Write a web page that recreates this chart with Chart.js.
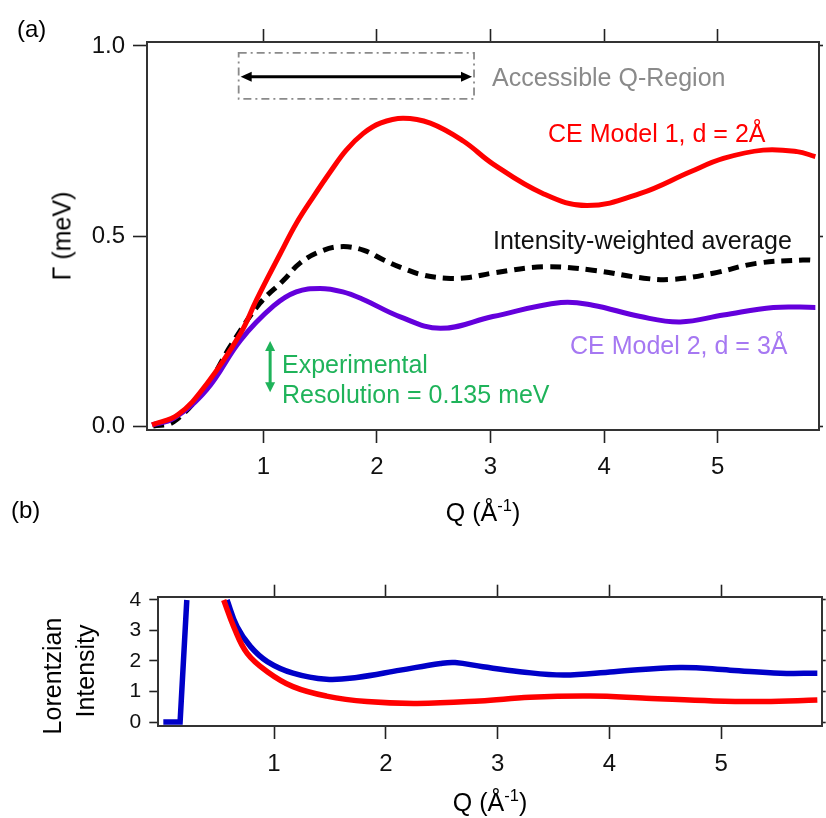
<!DOCTYPE html>
<html lang="en">
<head>
<meta charset="UTF-8" />
<title>CE model linewidths</title>
<script src="https://cdn.jsdelivr.net/npm/chart.js"></script>
<style>
  body { margin: 0; background: #fff; font-family: "Liberation Sans", Arial, sans-serif; }
  #page { position: relative; width: 826px; height: 818px; overflow: hidden; background: #fff; }
  canvas { position: absolute; left: 0; }
  #chartA { top: 0; }
  #chartB { top: 540px; }
  .lbl { position: absolute; white-space: nowrap; line-height: 1; transform: translateY(-50%); }
  .ctr { position: absolute; white-space: nowrap; line-height: 1; transform: translate(-50%, -50%); }
  .rot { position: absolute; white-space: nowrap; line-height: 1; transform: translate(-50%, -50%) rotate(-90deg); }
  sup { font-size: 0.66em; vertical-align: 0.6em; line-height: 0; }
</style>
</head>
<body>
<div id="page">
  <canvas id="chartA" width="826" height="540"></canvas>
  <canvas id="chartB" width="826" height="278"></canvas>

  <div class="lbl" style="left:17px; top:29px; font-size:24px;">(a)</div>
  <div class="lbl" style="left:11px; top:510px; font-size:24px;">(b)</div>

  <div class="rot" style="left:62px; top:236px; font-size:25px;">Γ (meV)</div>
  <div class="ctr" style="left:483px; top:512px; font-size:25px;">Q (Å<sup>-1</sup>)</div>
  <div class="rot" style="left:52px; top:676px; font-size:25px;">Lorentzian</div>
  <div class="rot" style="left:85px; top:671px; font-size:25px;">Intensity</div>
  <div class="ctr" style="left:490px; top:802px; font-size:25px;">Q (Å<sup>-1</sup>)</div>

  <div class="lbl" style="left:492px; top:77px; font-size:25px; color:#8a8a8a;">Accessible Q-Region</div>
  <div class="lbl" style="left:548px; top:133px; font-size:25px; color:#ff0000;">CE Model 1, d = 2Å</div>
  <div class="lbl" style="left:493px; top:240px; font-size:25px; color:#111;">Intensity-weighted average</div>
  <div class="lbl" style="left:570px; top:345px; font-size:25px; color:#a678f2;">CE Model 2, d = 3Å</div>
  <div class="lbl" style="left:282px; top:364px; font-size:25px; color:#1fb35a;">Experimental</div>
  <div class="lbl" style="left:282px; top:394px; font-size:25px; color:#1fb35a;">Resolution = 0.135 meV</div>
</div>

<script>
  // ---- panel (a): linewidth vs Q ----
  const qRed      = [0.02, 0.25, 0.50, 0.80, 0.94, 1.15, 1.29, 1.44, 1.59, 1.73, 1.88, 2.03, 2.23, 2.47, 2.76, 3.02, 3.46, 3.85, 4.32, 4.76, 5.05, 5.40, 5.70, 5.86];
  const gamRed    = [0.003, 0.03, 0.11, 0.244, 0.332, 0.454, 0.533, 0.603, 0.669, 0.726, 0.77, 0.797, 0.81, 0.797, 0.75, 0.69, 0.612, 0.58, 0.612, 0.669, 0.704, 0.726, 0.722, 0.709];
  const qPurple   = [0.02, 0.21, 0.50, 0.80, 1.09, 1.29, 1.50, 1.70, 1.88, 2.20, 2.56, 3.02, 3.62, 3.90, 4.32, 4.67, 5.05, 5.49, 5.86];
  const gamPurple = [0.003, 0.02, 0.095, 0.226, 0.316, 0.353, 0.362, 0.353, 0.333, 0.288, 0.257, 0.288, 0.325, 0.318, 0.288, 0.274, 0.292, 0.312, 0.312];
  const qAvg      = [0.03, 0.21, 0.50, 0.71, 0.97, 1.18, 1.32, 1.50, 1.68, 1.88, 2.06, 2.23, 2.41, 2.61, 2.79, 3.03, 3.47, 3.90, 4.35, 4.61, 4.96, 5.34, 5.75, 5.86];
  const gamAvg    = [0.0, 0.011, 0.105, 0.21, 0.323, 0.384, 0.428, 0.459, 0.472, 0.463, 0.437, 0.415, 0.397, 0.389, 0.39, 0.403, 0.419, 0.41, 0.389, 0.386, 0.402, 0.428, 0.437, 0.436];
  const tickQ     = [1, 2, 3, 4, 5];
  const tickGam   = [0, 0.5, 1.0];

  // annotation anchors, in data units
  const accessQ   = [0.783, 2.855];
  const accessGam = [0.861, 0.982];
  const arrowGam  = 0.919;
  const resQ      = 1.06;
  const resGam    = [0.089, 0.224];

  // ---- panel (b): Lorentzian intensity vs Q ----
  const qBlueRise   = [0.01, 0.16, 0.22];
  const intBlueRise = [0, 0, 4];
  const qBlue   = [0.58, 0.67, 0.79, 0.94, 1.17, 1.47, 1.74, 2.13, 2.49, 2.62, 2.87, 3.20, 3.59, 4.04, 4.63, 5.08, 5.53, 5.86];
  const intBlue = [4.0, 3.12, 2.47, 1.98, 1.60, 1.40, 1.46, 1.70, 1.92, 1.95, 1.81, 1.65, 1.54, 1.65, 1.79, 1.70, 1.60, 1.60];
  const qRedB   = [0.55, 0.64, 0.76, 0.94, 1.17, 1.47, 1.83, 2.28, 2.84, 3.29, 3.83, 4.33, 4.93, 5.38, 5.86];
  const intRedB = [4.0, 3.12, 2.25, 1.65, 1.16, 0.85, 0.67, 0.61, 0.69, 0.81, 0.85, 0.78, 0.69, 0.67, 0.72];
  const tickInt = [0, 1, 2, 3, 4];

  const FONT = '"Liberation Sans", Arial, sans-serif';

  function pts(xs, ys) {
    return xs.map((x, i) => ({ x: x, y: ys[i] }));
  }

  function line(xs, ys, color, width, extra) {
    return Object.assign({
      data: pts(xs, ys),
      showLine: true,
      borderColor: color,
      borderWidth: width,
      pointRadius: 0,
      tension: 0.4,
      fill: false
    }, extra || {});
  }

  // one axis with fixed size so the plot box lands where the figure has it
  function axis(pos, min, max, size, tickLen, values, labels) {
    const horiz = pos === 'top' || pos === 'bottom';
    return {
      type: 'linear',
      axis: horiz ? 'x' : 'y',
      position: pos,
      min: min,
      max: max,
      afterBuildTicks: s => { s.ticks = values.map(v => ({ value: v })); },
      afterFit: s => { if (horiz) s.height = size; else s.width = size; },
      grid: { drawOnChartArea: false, drawTicks: true, tickLength: tickLen, tickWidth: 1.6, tickColor: '#222' },
      border: { display: true, color: '#333', width: 2 },
      ticks: labels ? Object.assign({ display: true, color: '#111', maxRotation: 0, autoSkip: false }, labels) : { display: false }
    };
  }

  function doubleArrow(ctx, xa, ya, xb, yb, head, half, lw, color) {
    const dx = xb - xa, dy = yb - ya, len = Math.hypot(dx, dy);
    const ux = dx / len, uy = dy / len, nx = -uy, ny = ux;
    ctx.strokeStyle = color;
    ctx.fillStyle = color;
    ctx.lineWidth = lw;
    ctx.beginPath();
    ctx.moveTo(xa + ux * head * 0.8, ya + uy * head * 0.8);
    ctx.lineTo(xb - ux * head * 0.8, yb - uy * head * 0.8);
    ctx.stroke();
    [[xa, ya, 1], [xb, yb, -1]].forEach(([px, py, s]) => {
      ctx.beginPath();
      ctx.moveTo(px, py);
      ctx.lineTo(px + s * ux * head + nx * half, py + s * uy * head + ny * half);
      ctx.lineTo(px + s * ux * head - nx * half, py + s * uy * head - ny * half);
      ctx.closePath();
      ctx.fill();
    });
  }

  const markupA = {
    id: 'markupA',
    afterDatasetsDraw(chart) {
      const ctx = chart.ctx, x = chart.scales.x, y = chart.scales.y;
      ctx.save();
      // dash-dot box around the accessible region
      const x0 = x.getPixelForValue(accessQ[0]), x1 = x.getPixelForValue(accessQ[1]);
      const yTop = y.getPixelForValue(accessGam[1]), yBot = y.getPixelForValue(accessGam[0]);
      ctx.strokeStyle = '#8a8a8a';
      ctx.lineWidth = 1.8;
      ctx.setLineDash([8, 4, 2, 4]);
      ctx.strokeRect(x0, yTop, x1 - x0, yBot - yTop);
      ctx.setLineDash([]);
      const ya = y.getPixelForValue(arrowGam);
      doubleArrow(ctx, x0 + 2, ya, x1 - 2, ya, 11, 5, 3, '#000');
      // resolution bar
      const xr = x.getPixelForValue(resQ);
      doubleArrow(ctx, xr, y.getPixelForValue(resGam[1]), xr, y.getPixelForValue(resGam[0]), 10, 5, 3, '#1fb35a');
      ctx.restore();
    }
  };

  const common = {
    responsive: false,
    maintainAspectRatio: false,
    devicePixelRatio: 1,
    animation: false,
    events: [],
    layout: { padding: 0 },
    plugins: { legend: { display: false }, tooltip: { enabled: false } }
  };

  new Chart(document.getElementById('chartA'), {
    type: 'scatter',
    data: {
      datasets: [
        line(qRed, gamRed, '#ff0000', 5),
        line(qPurple, gamPurple, '#6400dc', 5),
        line(qAvg, gamAvg, '#000000', 5, { borderDash: [11, 7], borderCapStyle: 'butt' })
      ]
    },
    options: Object.assign({}, common, {
      scales: {
        x: axis('bottom', -0.024, 5.892, 110, 13, tickQ,
          { font: { family: FONT, size: 24 }, padding: 10, callback: v => String(v) }),
        x2: axis('top', -0.024, 5.892, 42, 13, tickQ, null),
        y: axis('left', -0.0105, 1.0105, 147, 14, tickGam,
          { font: { family: FONT, size: 24 }, padding: 8, callback: v => v.toFixed(1) }),
        y2: axis('right', -0.0105, 1.0105, 7, 4, tickGam, null)
      }
    }),
    plugins: [markupA]
  });

  new Chart(document.getElementById('chartB'), {
    type: 'scatter',
    data: {
      datasets: [
        line(qRedB, intRedB, '#ff0000', 5.5),
        line(qBlueRise, intBlueRise, '#0000c8', 5.5, { tension: 0 }),
        line(qBlue, intBlue, '#0000c8', 5.5)
      ]
    },
    options: Object.assign({}, common, {
      scales: {
        x: axis('bottom', -0.035, 5.899, 92, 13, tickQ,
          { font: { family: FONT, size: 24 }, padding: 11, callback: v => String(v) }),
        x2: axis('top', -0.035, 5.899, 56.7, 12, tickQ, null),
        y: axis('left', -0.131, 4.108, 158.3, 9, tickInt,
          { font: { family: FONT, size: 21 }, padding: 8, callback: v => String(v) }),
        y2: axis('right', -0.131, 4.108, 4.3, 4, tickInt, null)
      }
    })
  });
</script>
</body>
</html>
